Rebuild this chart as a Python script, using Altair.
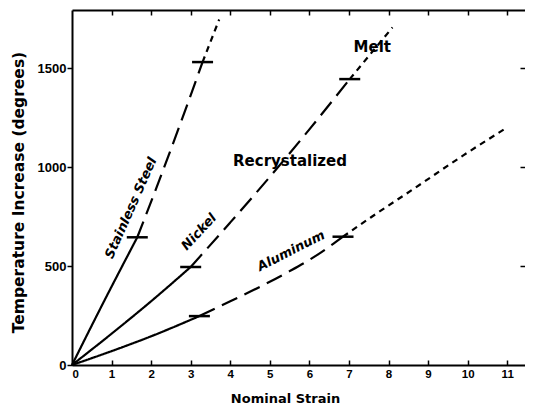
import altair as alt
import pandas as pd

# ---- data -------------------------------------------------------------
# Stainless Steel
ss_solid_strain = [0.0, 0.8, 1.65]
ss_solid_temp = [0, 318, 645]
ss_long_strain = [1.65, 2.2, 2.75, 3.3]
ss_long_temp = [645, 930, 1225, 1530]
ss_short_strain = [3.3, 3.72]
ss_short_temp = [1530, 1745]

# Nickel
ni_solid_strain = [0.0, 1.0, 2.0, 3.0]
ni_solid_temp = [0, 158, 322, 495]
ni_long_strain = [3.0, 4.0, 5.0, 6.0, 7.02]
ni_long_temp = [495, 720, 950, 1190, 1444]
ni_short_strain = [7.02, 8.1]
ni_short_temp = [1444, 1705]

# Aluminum
al_solid_strain = [0.0, 1.0, 2.0, 3.22]
al_solid_temp = [0, 70, 145, 247]
al_long_strain = [3.22, 4.0, 4.8, 5.5, 6.2, 6.85]
al_long_temp = [247, 322, 400, 474, 556, 648]
al_short_strain = [6.85, 7.55, 8.6, 9.9, 11.0]
al_short_temp = [648, 745, 885, 1060, 1200]

# transition markers (recrystallization / melt)
marker_strain = [1.65, 3.3, 3.0, 7.02, 3.22, 6.85]
marker_temp = [645, 1530, 495, 1444, 247, 648]

# curve labels
metal_names = ["Stainless Steel", "Nickel", "Aluminum"]
metal_label_strain = [1.49, 3.21, 5.54]
metal_label_temp = [793, 672, 576]
metal_label_angle = [294, 313, 333]

region_names = ["Recrystalized", "Melt"]
region_label_strain = [5.51, 7.59]
region_label_temp = [1030, 1606]

x_ticks = [0, 1, 2, 3, 4, 5, 6, 7, 8, 9, 10, 11]
y_ticks = [0, 500, 1000, 1500]
right_ticks = [500, 1000, 1500]

# ---- build tables ------------------------------------------------------
segments = [
    ("Stainless Steel", "solid", ss_solid_strain, ss_solid_temp),
    ("Stainless Steel", "long", ss_long_strain, ss_long_temp),
    ("Stainless Steel", "short", ss_short_strain, ss_short_temp),
    ("Nickel", "solid", ni_solid_strain, ni_solid_temp),
    ("Nickel", "long", ni_long_strain, ni_long_temp),
    ("Nickel", "short", ni_short_strain, ni_short_temp),
    ("Aluminum", "solid", al_solid_strain, al_solid_temp),
    ("Aluminum", "long", al_long_strain, al_long_temp),
    ("Aluminum", "short", al_short_strain, al_short_temp),
]
rows = []
for metal, kind, xs, ys in segments:
    for i, (xv, yv) in enumerate(zip(xs, ys)):
        rows.append({"metal": metal, "kind": kind, "seg": metal + "-" + kind,
                     "idx": i, "strain": xv, "temp": yv})
lines_df = pd.DataFrame(rows)
markers_df = pd.DataFrame({"strain": marker_strain, "temp": marker_temp})
metal_df = pd.DataFrame({"name": metal_names, "strain": metal_label_strain,
                         "temp": metal_label_temp, "angle": metal_label_angle})
region_df = pd.DataFrame({"name": region_names, "strain": region_label_strain,
                          "temp": region_label_temp})

W, H = 453, 355
x_scale = alt.Scale(domain=[0, 11.45], nice=False, zero=False)
y_scale = alt.Scale(domain=[0, 1793], nice=False, zero=False)

lines = alt.Chart(lines_df).mark_line(color="black", strokeWidth=2.2,
                                      interpolate="monotone").encode(
    x=alt.X("strain:Q", scale=x_scale, axis=alt.Axis(
        orient="bottom", values=x_ticks, ticks=False, grid=False, format="d",
        domainColor="black", domainWidth=2,
        labelFont="Liberation Sans", labelFontWeight="bold", labelFontSize=11.5,
        labelColor="black", labelPadding=3,
        title="Nominal Strain", titleFont="DejaVu Sans", titleFontWeight="bold",
        titleFontSize=13, titleColor="black", titleX=213, titleY=37,
        titleBaseline="alphabetic", titleAlign="center")),
    y=alt.Y("temp:Q", scale=y_scale, axis=alt.Axis(
        orient="left", values=y_ticks, grid=False, tickSize=5, tickWidth=1.5,
        format="d",
        tickColor="black", domainColor="black", domainWidth=2,
        labelFont="Liberation Sans", labelFontWeight="bold", labelFontSize=13,
        labelColor="black", labelPadding=1,
        title="Temperature Increase (degrees)", titleFont="DejaVu Sans",
        titleFontWeight="bold", titleFontSize=15.5, titleColor="black",
        titleX=-54, titleY=182, titleAngle=270, titleBaseline="middle",
        titleAlign="center")),
    strokeDash=alt.StrokeDash("kind:N", scale=alt.Scale(
        domain=["solid", "long", "short"], range=[[1, 0], [17, 8], [6, 5]]),
        legend=None),
    detail="seg:N",
    order="idx:Q",
)

markers = alt.Chart(markers_df).mark_tick(
    orient="horizontal", size=21, thickness=2.5, color="black", opacity=1).encode(
    x=alt.X("strain:Q", scale=x_scale, axis=alt.Axis(
        orient="top", offset=-H, values=x_ticks[1:], labels=False, domain=False,
        grid=False, tickSize=5, tickWidth=1.5, tickColor="black", title=None)),
    y=alt.Y("temp:Q", scale=y_scale, axis=alt.Axis(
        orient="left", offset=-W, values=right_ticks, labels=False, domain=False,
        grid=False, tickSize=5, tickWidth=1.5, tickColor="black", title=None)),
)

metal_text = alt.Chart(metal_df).mark_text(
    font="DejaVu Sans", fontWeight="bold", fontStyle="italic", fontSize=13,
    color="black", align="center", baseline="middle").encode(
    x=alt.X("strain:Q", scale=x_scale, axis=alt.Axis(
        orient="bottom", offset=-H, values=x_ticks[1:], labels=False, domain=True,
        domainColor="black", domainWidth=2, grid=False, tickSize=5,
        tickWidth=1.5, tickColor="black", title=None)),
    y=alt.Y("temp:Q", scale=y_scale, axis=None),
    text="name:N",
    angle=alt.Angle("angle:Q", scale=None),
)

region_text = alt.Chart(region_df).mark_text(
    font="DejaVu Sans", fontWeight="bold", fontSize=15, color="black",
    align="center", baseline="middle").encode(
    x=alt.X("strain:Q", scale=x_scale, axis=None),
    y=alt.Y("temp:Q", scale=y_scale, axis=None),
    text="name:N",
)

chart = alt.layer(lines, markers, metal_text, region_text).resolve_axis(
    x="independent", y="independent"
).properties(
    width=W, height=H,
    autosize=alt.AutoSizeParams(type="none"),
    padding={"left": 64, "top": 2, "right": 0, "bottom": 41},
    background="white",
).configure_view(stroke=None)

chart.save("out.html", embed_options={"renderer": "svg", "actions": False})
